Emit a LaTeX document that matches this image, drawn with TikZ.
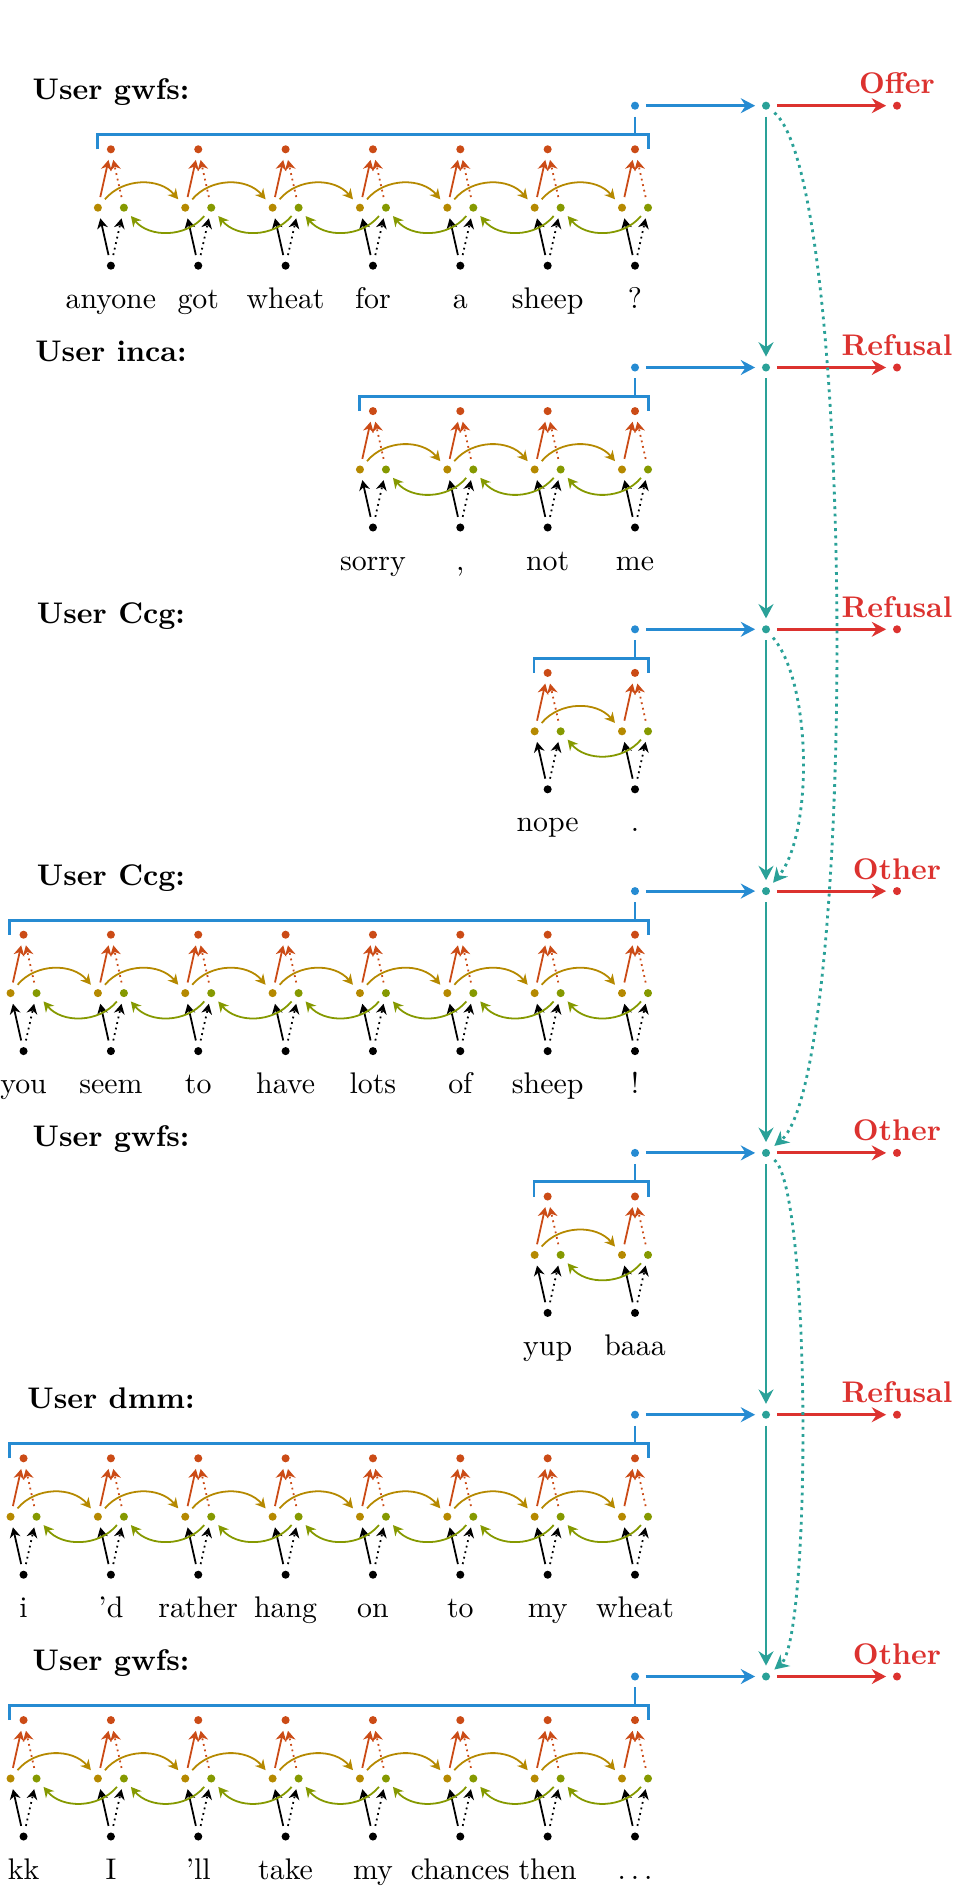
\documentclass[tikz,border=0pt]{standalone}
\usetikzlibrary{arrows.meta}
\definecolor{solorange}{HTML}{CB4B16}
\definecolor{solyellow}{HTML}{B58900}
\definecolor{solgreen}{HTML}{859900}
\definecolor{solblue}{HTML}{268BD2}
\definecolor{solcyan}{HTML}{2AA198}
\definecolor{solred}{HTML}{DC322F}
\newcommand\utter[5]{%
  \pgfmathsetmacro\Y{-(105.7+261.8*#1)}%
  \foreach \w [count=\j] in {#5}{%
    \pgfmathsetmacro\X{635-87.35*(#2-\j)}%
    \node[dot=solorange] (r#1-\j) at (\X,\Y-43.6) {};
    \node[dot=solyellow] (y#1-\j) at (\X-13,\Y-102) {};
    \node[dot=solgreen] (g#1-\j) at (\X+13,\Y-102) {};
    \node[dot=black] (k#1-\j) at (\X,\Y-160) {};
    \node[word] (w#1-\j) at (\X,\Y-202.6) {\w};
    \draw[small] (k#1-\j) -- (y#1-\j);
    \draw[small,sdots] (k#1-\j) -- (g#1-\j);
    \draw[small,solorange] (y#1-\j) -- (r#1-\j);
    \draw[small,solorange,sdots] (g#1-\j) -- (r#1-\j);
  }%
  \pgfmathtruncatemacro\nm{#2-1}%
  \foreach \j in {1,...,\nm}{%
    \pgfmathtruncatemacro\jj{\j+1}%
    \draw[small,solyellow] (y#1-\j) to[bend left=50] (y#1-\jj);
    \draw[small,solgreen] (g#1-\jj) to[bend left=50] (g#1-\j);
  }%
  \pgfmathsetmacro\XL{635-87.35*(#2-1)-13.7}%
  \draw[bracket] (\XL,\Y-43.6) -- (\XL,\Y-29) -- (648.3,\Y-29) -- (648.3,\Y-43.6);
  \node[dot=solblue] (u#1) at (635,\Y) {};
  \coordinate (b#1) at (635,\Y-29);
  \draw[bracket] (u#1) -- (b#1);
  \node[dot=solcyan] (t#1) at (766,\Y) {};
  \node[dot=solred] (c#1) at (897,\Y) {};
  \draw[big,solblue] (u#1) -- (t#1);
  \draw[big,solred] (t#1) -- (c#1);
  \node[classlabel] (cl#1) at (897,\Y+12) {#4};
  \node[userlabel] (ul#1) at (111,\Y+6) {#3};
}
\begin{document}
\begin{tikzpicture}[x=0.335pt,y=0.335pt,
  dot/.style={circle,fill=#1,inner sep=0pt,minimum size=2.7pt,outer sep=2.3pt},
  small/.style={line width=0.6pt,-{Stealth[length=3.4pt,width=3.6pt,inset=1.1pt]}},
  big/.style={line width=0.95pt,-{Stealth[length=4.8pt,width=5pt,inset=1.6pt]}},
  sdots/.style={dash pattern=on 0.6pt off 1.3pt},
  tdots/.style={dash pattern=on 0.95pt off 1.5pt},
  bracket/.style={line width=0.95pt,solblue},
  word/.style={anchor=base,inner sep=0pt},
  classlabel/.style={anchor=base,inner sep=0pt,font=\bfseries,text=solred},
  userlabel/.style={anchor=base,inner sep=0pt,font=\bfseries},
]
\useasboundingbox (0,0) rectangle (955,-1889);
\utter{0}{7}{User gwfs:}{Offer}{anyone,got,wheat,for,a,sheep,?}
\utter{1}{4}{User inca:}{Refusal}{{sorry},{,},{not},{me}}
\utter{2}{2}{User Ccg:}{Refusal}{nope,.}
\utter{3}{8}{User Ccg:}{Other}{you,seem,to,have,lots,of,sheep,!}
\utter{4}{2}{User gwfs:}{Other}{yup,baaa}
\utter{5}{8}{User dmm:}{Refusal}{i,’d,rather,hang,on,to,my,wheat}
\utter{6}{8}{User gwfs:}{Other}{kk,I,’ll,take,my,chances,then,$\ldots$}
\foreach \i [count=\n] in {0,...,5}{\draw[big,solcyan] (t\i) -- (t\n);}
\draw[big,solcyan,tdots] (t0) .. controls +(90.7,-76.1) and +(90.7,76.1) .. (t4);
\draw[big,solcyan,tdots] (t2) .. controls +(46.7,-55.6) and +(46.7,55.6) .. (t3);
\draw[big,solcyan,tdots] (t4) .. controls +(45.3,-38) and +(45.3,38) .. (t6);
\end{tikzpicture}
\end{document}
